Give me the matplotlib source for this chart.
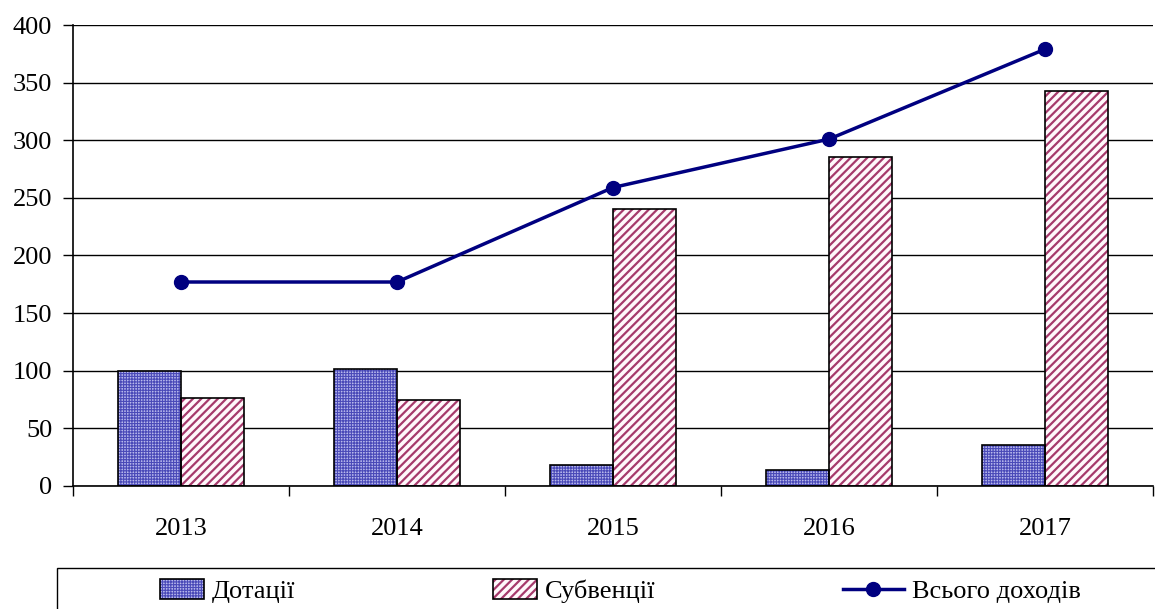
import numpy as np
import matplotlib
matplotlib.use("Agg")
import matplotlib.pyplot as plt
from matplotlib.patches import Rectangle, Patch
from matplotlib.lines import Line2D

years = ["2013", "2014", "2015", "2016", "2017"]
dotatsii = [100, 101.5, 18, 14, 35.5]
subventsii = [76.5, 74.5, 240.5, 285.5, 342.5]
vsogo = [177, 177, 259, 301, 379]
yticks = [0, 50, 100, 150, 200, 250, 300, 350, 400]

plt.rcParams["font.family"] = ["Liberation Serif", "DejaVu Serif"]

fig = plt.figure(figsize=(11.55, 6.09), dpi=100)
ax = fig.add_axes([73 / 1155, 1 - 486 / 609, 1080 / 1155, 461 / 609])

x = np.arange(len(years))
w = 63 / 216
blue_face, blue_hatch, blue_hw, blue_pat = "#b8b8ec", "#4a4ab8", 0.8, "++++++"
red_face, red_hatch, red_hw, red_pat = "#fff8fb", "#a63a6c", 1.6, "////"

with plt.rc_context({"hatch.linewidth": blue_hw}):
    ax.bar(x - w / 2, dotatsii, w, color=blue_face, edgecolor=blue_hatch, hatch=blue_pat, linewidth=0, zorder=2)
ax.bar(x - w / 2, dotatsii, w, fill=False, edgecolor="black", linewidth=1.2, zorder=3)
with plt.rc_context({"hatch.linewidth": red_hw}):
    ax.bar(x + w / 2, subventsii, w, color=red_face, edgecolor=red_hatch, hatch=red_pat, linewidth=0, zorder=2)
ax.bar(x + w / 2, subventsii, w, fill=False, edgecolor="black", linewidth=1.2, zorder=3)

ax.plot(x, vsogo, color="#000080", lw=2.5, marker="o", ms=10, zorder=4)

ax.set_xlim(-0.5, len(years) - 0.5)
ax.set_ylim(0, 400)
ax.set_yticks(yticks)
ax.yaxis.grid(True, color="black", lw=1.0)
ax.set_axisbelow(True)
ax.set_xticks(x)
ax.set_xticklabels(years)
ax.set_xticks(np.arange(len(years) + 1) - 0.5, minor=True)
ax.tick_params(axis="x", which="major", length=0, pad=23, labelsize=19)
ax.tick_params(axis="x", which="minor", length=7, width=1.0, direction="out")
ax.tick_params(axis="y", length=7, width=1.0, pad=8, labelsize=19)
for s in ["top", "right"]:
    ax.spines[s].set_visible(False)
ax.spines["left"].set_linewidth(1.2)
ax.spines["bottom"].set_linewidth(1.2)

# legend frame at the bottom
fig.patches.append(Rectangle((57 / 1155, -0.1), 1.2, 0.1 + 1 - 568 / 609, transform=fig.transFigure,
                             fill=False, edgecolor="black", lw=1.0))

legy = 1 - 591 / 609
items = [
    ("Дотації", 160, 1.65, blue_hw,
     lambda: (Patch(facecolor=blue_face, edgecolor=blue_hatch, hatch=blue_pat, lw=0),
              Patch(fill=False, edgecolor="black", lw=1.2))),
    ("Субвенції", 493, 1.65, red_hw,
     lambda: (Patch(facecolor=red_face, edgecolor=red_hatch, hatch=red_pat, lw=0),
              Patch(fill=False, edgecolor="black", lw=1.2))),
    ("Всього доходів", 843, 2.3, 1.0,
     lambda: Line2D([], [], color="#000080", lw=2.5, marker="o", ms=10)),
]
for lab, xpos, hl, hw, make in items:
    with plt.rc_context({"hatch.linewidth": hw}):
        fig.legend([make()], [lab], loc="center left", bbox_to_anchor=(xpos / 1155, legy), frameon=False,
                   fontsize=19, borderpad=0, borderaxespad=0, handlelength=hl, handletextpad=0.3,
                   handleheight=0.8)

fig.savefig("out.png", dpi=100)
